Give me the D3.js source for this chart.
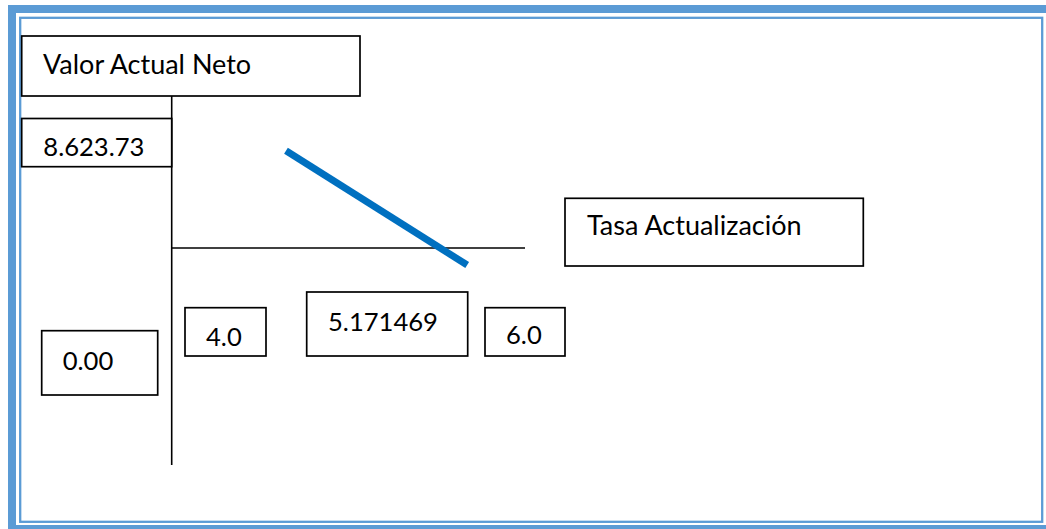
<!DOCTYPE html>
<html>
<head>
<meta charset="utf-8">
<script src="https://cdn.jsdelivr.net/npm/d3@7"></script>
<style>
  html, body { margin: 0; padding: 0; background: #fff; }
  svg { display: block; }
  text { font-family: Lato, "Open Sans", sans-serif; fill: #000; }
</style>
</head>
<body>
<svg id="chart" width="1046" height="529"></svg>
<script>
// ---- data ----
const yTitle = "Valor Actual Neto";
const xTitle = "Tasa Actualización";
const valueTicks = [8623.73, 0.00];
const valueTickLabels = ["8.623.73", "0.00"];
const rateTicks = [4.0, 5.171469, 6.0];
const rateTickLabels = ["4.0", "5.171469", "6.0"];
// NPV line (tasa, VAN)
const lineRates = [4.0, 5.38];
const lineValues = [8623.73, -1510];

// ---- layout ----
const svg = d3.select("#chart");
const blue = "#5b9bd5";
const titleSize = 27;
const numberSize = 25.6;

// page border (double frame)
svg.append("rect").attr("x", 12).attr("y", 9).attr("width", 1038).attr("height", 520)
  .attr("fill", "none").attr("stroke", blue).attr("stroke-width", 8);
svg.append("rect").attr("x", 20.2).attr("y", 17.8).attr("width", 1022).attr("height", 504)
  .attr("fill", "none").attr("stroke", blue).attr("stroke-width", 2.3);

// scales
const x = d3.scaleLinear().domain([4.0, 5.171469]).range([286, 439.8]);
const y = d3.scaleLinear().domain([0, 8623.73]).range([248, 150.7]);

// axes lines
const axisLeft = 171.7, axisRight = 525, axisTop = 96, axisBottom = 465;
svg.append("line").attr("x1", axisLeft).attr("x2", axisLeft).attr("y1", axisTop).attr("y2", axisBottom)
  .attr("stroke", "#000").attr("stroke-width", 1.6);
svg.append("line").attr("x1", axisLeft).attr("x2", axisRight).attr("y1", y(0)).attr("y2", y(0))
  .attr("stroke", "#000").attr("stroke-width", 1.6);

// NPV line
const pts = lineRates.map((r, i) => [x(r), y(lineValues[i])]);
svg.append("path").attr("d", d3.line()(pts))
  .attr("fill", "none").attr("stroke", "#0070c0").attr("stroke-width", 7);

// boxed labels
function box(bx, by, bw, bh, tx, ty, label, size) {
  const g = svg.append("g");
  g.append("rect").attr("x", bx).attr("y", by).attr("width", bw).attr("height", bh)
    .attr("fill", "#fff").attr("stroke", "#000").attr("stroke-width", 1.7);
  g.append("text").attr("x", tx).attr("y", ty).attr("font-size", size).text(label);
}
box(21.7, 36, 338.3, 60, 43, 74, yTitle, titleSize);
box(21.7, 118.5, 150, 48.2, 43.3, 156, valueTickLabels[0], numberSize);
box(565, 198.3, 298.3, 67.7, 587, 235, xTitle, titleSize);
box(41.7, 330.7, 116, 64.3, 62.7, 370, valueTickLabels[1], numberSize);
box(185, 307.7, 81, 48.3, 206, 345.7, rateTickLabels[0], numberSize);
box(306.7, 292, 161, 64, 328, 330.7, rateTickLabels[1], numberSize);
box(485, 307.7, 80, 48.3, 506, 344.3, rateTickLabels[2], numberSize);
</script>
</body>
</html>
